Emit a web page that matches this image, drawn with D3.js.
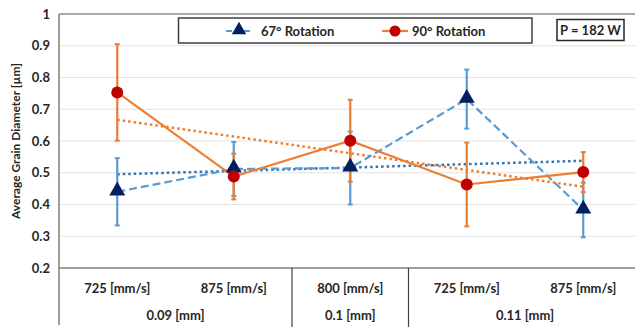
<!DOCTYPE html>
<html lang="en">
<head>
<meta charset="UTF-8">
<script src="https://d3js.org/d3.v7.min.js"></script>
<style>
  body { margin: 0; background: #fff; }
  svg text { font-family: Lato, "Liberation Sans", sans-serif; font-weight: bold; fill: #262626; }
</style>
</head>
<body>
<svg id="chart" width="635" height="327"></svg>
<script>
// categories: speed (tier 1) and hatch spacing (tier 2)
const speeds = ["725 [mm/s]", "875 [mm/s]", "800 [mm/s]", "725 [mm/s]", "875 [mm/s]"];
const hatchGroups = [
  { label: "0.09 [mm]", from: 0, to: 1 },
  { label: "0.1 [mm]", from: 2, to: 2 },
  { label: "0.11 [mm]", from: 3, to: 4 }
];
const yTicks = [0.2, 0.3, 0.4, 0.5, 0.6, 0.7, 0.8, 0.9, 1];

const rot67 = [0.44, 0.512, 0.515, 0.732, 0.383];
const rot67Err = [0.106, 0.085, 0.115, 0.093, 0.086];
const rot90 = [0.753, 0.488, 0.601, 0.463, 0.502];
const rot90Err = [0.152, 0.072, 0.129, 0.132, 0.063];

const svg = d3.select("#chart");
const plotL = 59, plotT = 14, plotB = 268, plotR = 641.5;

const x = d3.scalePoint().domain(d3.range(speeds.length)).range([plotL, plotR]).padding(0.5);
const y = d3.scaleLinear().domain([0.2, 1]).range([plotB, plotT]);
const step = x.step();

// gridlines
svg.append("g").selectAll("line").data(yTicks.filter(t => t > 0.2 && t < 1)).enter()
  .append("line")
  .attr("x1", plotL).attr("x2", plotR)
  .attr("y1", d => y(d)).attr("y2", d => y(d))
  .attr("stroke", "#e3e3e3").attr("stroke-width", 1);

// plot border top + axes
svg.append("line").attr("x1", plotL).attr("x2", plotR).attr("y1", y(1)).attr("y2", y(1))
  .attr("stroke", "#8c8c8c").attr("stroke-width", 1.5);
svg.append("line").attr("x1", plotL).attr("x2", plotR).attr("y1", plotB).attr("y2", plotB)
  .attr("stroke", "#7f7f7f").attr("stroke-width", 1.5);
svg.append("line").attr("x1", plotL).attr("x2", plotL).attr("y1", plotT).attr("y2", 325)
  .attr("stroke", "#7f7f7f").attr("stroke-width", 1.5);

// y axis labels
const yAxis = svg.append("g").attr("transform", `translate(${plotL},0)`)
  .call(d3.axisLeft(y).tickValues(yTicks).tickSize(0).tickPadding(9).tickFormat(d3.format("~g")));
yAxis.select(".domain").remove();
yAxis.selectAll("text").attr("font-size", 13).attr("font-family", null).attr("fill", null);

svg.append("text")
  .attr("transform", `translate(20,${(plotT + plotB) / 2}) rotate(-90)`)
  .attr("text-anchor", "middle").attr("font-size", 12)
  .text("Average Grain Diameter [µm]");

// category axis
svg.append("g").selectAll("text").data(speeds).enter().append("text")
  .attr("x", (d, i) => x(i)).attr("y", 293)
  .attr("text-anchor", "middle").attr("font-size", 13)
  .text(d => d);
svg.append("g").selectAll("text").data(hatchGroups).enter().append("text")
  .attr("x", d => (x(d.from) + x(d.to)) / 2).attr("y", 320)
  .attr("text-anchor", "middle").attr("font-size", 13)
  .text(d => d.label);
svg.append("g").selectAll("line").data(hatchGroups.slice(1)).enter().append("line")
  .attr("x1", d => x(d.from) - step / 2).attr("x2", d => x(d.from) - step / 2)
  .attr("y1", plotB).attr("y2", 327)
  .attr("stroke", "#404040").attr("stroke-width", 1.2);

// trendlines (least squares, as the spreadsheet draws them)
function trend(vals) {
  const n = vals.length, xs = d3.range(1, n + 1);
  const mx = d3.mean(xs), my = d3.mean(vals);
  const b = d3.sum(xs, (v, i) => (v - mx) * (vals[i] - my)) / d3.sum(xs, v => (v - mx) ** 2);
  return [0, n - 1].map(i => [i, my + b * (i + 1 - mx)]);
}
const tline = d3.line().x(d => x(d[0])).y(d => y(d[1]));

const series = [
  { vals: rot67, err: rot67Err, line: "#5b9bd5", dash: "8,4", trendColor: "#2e75b6", errColor: "#5b9bd5" },
  { vals: rot90, err: rot90Err, line: "#ed7d31", dash: null, trendColor: "#ed7d31", errColor: "#ed7d31" }
];

series.forEach(s => {
  svg.append("path").datum(trend(s.vals)).attr("d", tline)
    .attr("fill", "none").attr("stroke", s.trendColor).attr("stroke-width", 2.5)
    .attr("stroke-dasharray", "2.5,3");
});

series.forEach(s => {
  const g = svg.append("g");
  s.vals.forEach((v, i) => {
    const cx = x(i);
    g.append("line").attr("x1", cx).attr("x2", cx)
      .attr("y1", y(v - s.err[i])).attr("y2", y(v + s.err[i]))
      .attr("stroke", s.errColor).attr("stroke-width", 2.2);
    [v - s.err[i], v + s.err[i]].forEach(e => {
      g.append("line").attr("x1", cx - 2.5).attr("x2", cx + 2.5)
        .attr("y1", y(e)).attr("y2", y(e))
        .attr("stroke", s.errColor).attr("stroke-width", 2);
    });
  });
  g.append("path").datum(s.vals)
    .attr("d", d3.line().x((d, i) => x(i)).y(d => y(d)))
    .attr("fill", "none").attr("stroke", s.line).attr("stroke-width", 2.2)
    .attr("stroke-dasharray", s.dash);
});

svg.append("g").selectAll("path").data(rot67).enter().append("path")
  .attr("d", d3.symbol(d3.symbolTriangle, 110))
  .attr("transform", (d, i) => `translate(${x(i)},${y(d) - 1})`)
  .attr("fill", "#002060");
svg.append("g").selectAll("circle").data(rot90).enter().append("circle")
  .attr("cx", (d, i) => x(i)).attr("cy", d => y(d)).attr("r", 6)
  .attr("fill", "#c00000");

// legend
const lg = svg.append("g");
lg.append("rect").attr("x", 178.5).attr("y", 18).attr("width", 353.5).attr("height", 25)
  .attr("fill", "#fff").attr("stroke", "#404040").attr("stroke-width", 1.5);
lg.append("line").attr("x1", 226).attr("x2", 252).attr("y1", 31).attr("y2", 31)
  .attr("stroke", "#5b9bd5").attr("stroke-width", 2.2).attr("stroke-dasharray", "6,3");
lg.append("path").attr("d", d3.symbol(d3.symbolTriangle, 90))
  .attr("transform", "translate(239,30)").attr("fill", "#002060");
lg.append("text").attr("x", 261).attr("y", 36).attr("font-size", 13).text("67° Rotation");
lg.append("line").attr("x1", 382).attr("x2", 408).attr("y1", 31).attr("y2", 31)
  .attr("stroke", "#ed7d31").attr("stroke-width", 2.2);
lg.append("circle").attr("cx", 395).attr("cy", 31).attr("r", 5.5).attr("fill", "#c00000");
lg.append("text").attr("x", 412).attr("y", 36).attr("font-size", 13).text("90° Rotation");

// power annotation
svg.append("rect").attr("x", 557).attr("y", 19.5).attr("width", 67).attr("height", 21)
  .attr("fill", "#fff").attr("stroke", "#262626").attr("stroke-width", 1.5);
svg.append("text").attr("x", 590.5).attr("y", 35).attr("text-anchor", "middle")
  .attr("font-size", 13).text("P = 182 W");
</script>
</body>
</html>
